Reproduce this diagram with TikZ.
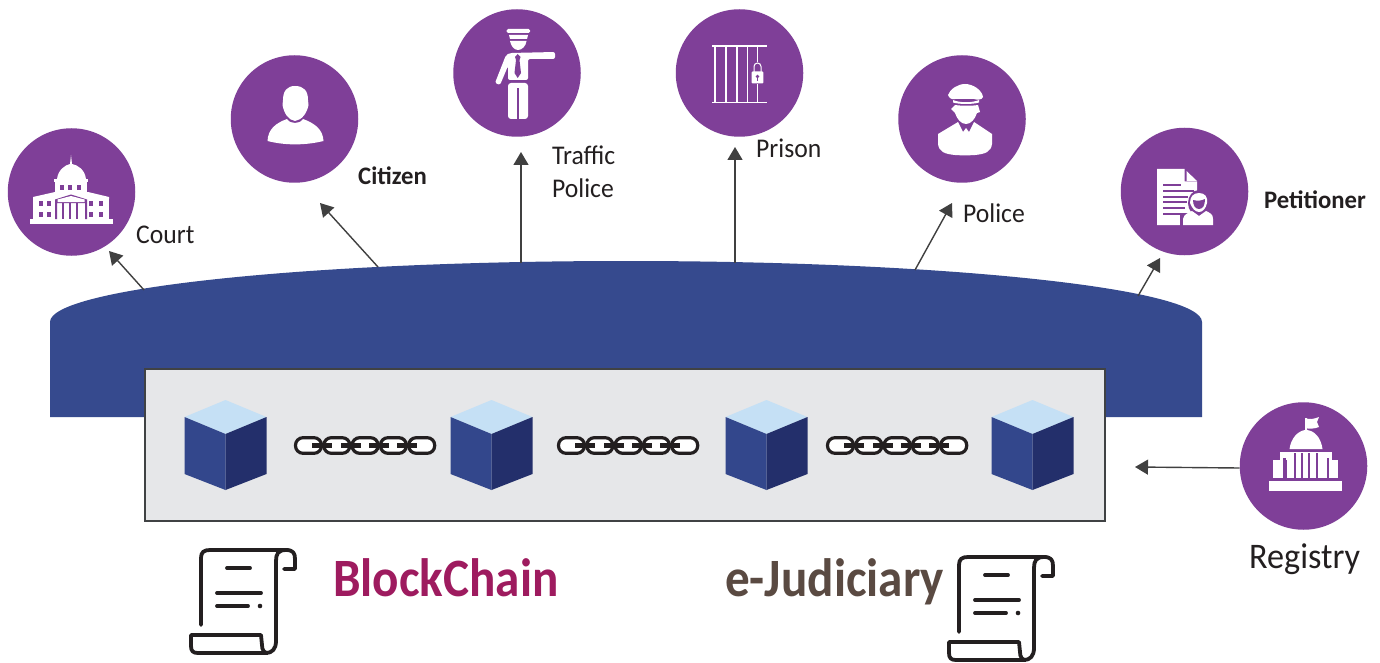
\documentclass[tikz,border=0pt]{standalone}
\usepackage{fontspec}
\setmainfont{Carlito}
\newfontfamily\lblfont[FakeStretch=0.95]{Carlito}
\newfontfamily\heavyfont[FakeStretch=0.98]{Carlito}
\newfontfamily\regfont[FakeStretch=0.95]{Carlito}
\newfontfamily\bigfont[FakeStretch=0.91]{Carlito}
\usetikzlibrary{arrows.meta}
\definecolor{hub}{HTML}{7F3F98}
\definecolor{dome}{HTML}{364A8E}
\definecolor{panel}{HTML}{E6E7E9}
\definecolor{panelrule}{HTML}{404244}
\definecolor{cubetop}{HTML}{C5E0F5}
\definecolor{cubeleft}{HTML}{33478C}
\definecolor{cuberight}{HTML}{232F6B}
\definecolor{arrowc}{HTML}{404040}
\definecolor{inkc}{HTML}{231F20}
\definecolor{bcred}{HTML}{9E1B5F}
\definecolor{ejbrown}{HTML}{5A4A42}
\tikzset{
  x=1pt,y=-1pt,
  hubnode/.style={circle,fill=hub,draw=none,minimum size=127.5pt,inner sep=0pt},
  linkarrow/.style={draw=arrowc,line width=1.4pt,-{Triangle[length=13pt,width=15pt]},shorten >=0pt},
  lbl/.style={anchor=base west,inner sep=0pt,text=inkc,font=\lblfont\fontsize{27}{30}\selectfont},
  boldlbl/.style={anchor=base west,inner sep=0pt,text=inkc,font=\heavyfont\bfseries\fontsize{25.2}{30}\selectfont},
  ico/.style={fill=white,draw=none},
  gap/.style={fill=hub,draw=none},
  scrollline/.style={draw=inkc,line width=3.8pt,line cap=round,line join=round},
  pics/cube/.style={code={
    \fill[cubetop] (0,-45)--(41,-28)--(0,-11)--(-41,-28)--cycle;
    \fill[cubeleft] (-41,-28)--(0,-11)--(0,45)--(-41,29)--cycle;
    \fill[cuberight] (41,-28)--(0,-11)--(0,45)--(41,29)--cycle;
  }},
  pics/chain/.style={code={
    \foreach \k in {0,...,4}{
      \draw[fill=white,draw=inkc,line width=3.2pt,rounded corners=7.5pt]
        ({\k*28.3+1.5},-7.8) rectangle ({\k*28.3+27.5},7.8);
    }
    \foreach \k in {1,...,4}{
      \fill[inkc] ({\k*28.3-10},-2.1) rectangle ({\k*28.3+10},2.1);
    }
  }},
  pics/scroll/.style={code={
    \draw[scrollline] (11,76) -- (11,9) .. controls (11,3) and (14,1) .. (20,1)
      -- (96,1) .. controls (103,1) and (105,4) .. (105,10) -- (105,20) -- (94,20);
    \draw[scrollline] (96,1) .. controls (88,1) and (86,5) .. (86,12) -- (86,92)
      .. controls (86,100) and (82,104) .. (76,104) -- (8,104)
      .. controls (3,104) and (1,102) .. (1,97) -- (1,86) -- (71,86) -- (72,96)
      .. controls (72,101) and (74,104) .. (78,104);
    \draw[scrollline] (37,19) -- (60,19);
    \draw[scrollline] (27,44) -- (71,44);
    \draw[scrollline] (27,57) -- (58,57);
    \fill[inkc] (70,57) circle (2.3pt);
  }},
}
\begin{document}
\begin{tikzpicture}
\useasboundingbox (0,0) rectangle (1380,663);
\fill[white] (0,0) rectangle (1380,663);

% base dome
\fill[dome] (50,417) -- (50,322) arc[start angle=180,end angle=360,x radius=576,y radius=61] -- (1202,417) -- cycle;
\coordinate (dCourt) at (144,290);
\coordinate (dCitizen) at (378,267);
\coordinate (dTraffic) at (521,263);
\coordinate (dPrison) at (735,263);
\coordinate (dPolice) at (915,270);
\coordinate (dPetitioner) at (1138,296);

% ledger panel
\node[draw=panelrule,fill=panel,line width=2.8pt,minimum width=960pt,minimum height=152pt,inner sep=0pt] (ledger) at (625,445) {};

\pic (cubeA) at (225.5,445) {cube};
\pic (cubeB) at (491.5,445) {cube};
\pic (cubeC) at (766.5,445) {cube};
\pic (cubeD) at (1032.5,445) {cube};
\pic (chainA) at (294,445.5) {chain};
\pic (chainB) at (557,445.5) {chain};
\pic (chainC) at (826,445.5) {chain};

% hubs
\node[hubnode] (court) at (71.5,192) {};
\node[hubnode] (citizen) at (294.5,119) {};
\node[hubnode] (traffic) at (517,73) {};
\node[hubnode] (prison) at (739.5,73) {};
\node[hubnode] (police) at (962,119) {};
\node[hubnode] (petitioner) at (1184.5,191.5) {};
\node[hubnode] (registry) at (1303.5,466) {};

% arrow ends
\coordinate (tCourt) at (109,251);
\coordinate (tCitizen) at (320,203);
\coordinate (tTraffic) at (521,152);
\coordinate (tPrison) at (735,147);
\coordinate (tPolice) at (952,203);
\coordinate (tPetitioner) at (1160,258);
\coordinate (tLedger) at (1135,467);
\draw[linkarrow] (dCourt) -- (tCourt);
\draw[linkarrow] (dCitizen) -- (tCitizen);
\draw[linkarrow] (dTraffic) -- (tTraffic);
\draw[linkarrow] (dPrison) -- (tPrison);
\draw[linkarrow] (dPolice) -- (tPolice);
\draw[linkarrow] (dPetitioner) -- (tPetitioner);
\draw[linkarrow] (registry.west |- 0,468) -- (tLedger);

% court icon
\fill[ico] (30,219) rectangle (113,223.5);
\fill[ico] (33,198) rectangle (109,219);
\fill[ico] (33,197) -- (55,192) -- (88,192) -- (109,197) -- (109,199) -- (33,199) -- cycle;
\fill[ico] (55,181) rectangle (87,193);
\fill[ico] (54,179) rectangle (88,182);
\fill[ico] (57,179) .. controls (58,170) and (65,165) .. (70,164) -- (71,155) -- (72,164) .. controls (78,165) and (85,170) .. (86,179) -- cycle;
\foreach \xx in {62,70,79}{\fill[gap] (\xx-1.7,185) rectangle (\xx+1.7,190);}
\foreach \xx in {41,49,91,101}{
  \fill[gap] (\xx-1.7,201) rectangle (\xx+1.7,206);
  \fill[gap] (\xx-1.7,212) rectangle (\xx+1.7,217);
}
\fill[gap] (55,199.5) -- (71,194.5) -- (87,199.5) -- (87,219) -- (85,219) -- (85,203) -- (57,203) -- (57,219) -- (55,219) -- cycle;
\foreach \xx in {63,70,77}{\fill[gap] (\xx-1.3,203) rectangle (\xx+1.3,219);}
\fill[ico] (57.5,199.5) -- (71,196) -- (84.5,199.5) -- (84.5,202) -- (57.5,202) -- cycle;

% citizen icon
\fill[ico] (295,86) .. controls (304,86) and (308,91) .. (308,100) -- (308.5,105) .. controls (307,113) and (302,120) .. (295,121)
  .. controls (288,120) and (284,113) .. (282.5,105) -- (283,100) .. controls (283,91) and (287,86) .. (295,86) -- cycle;
\fill[ico] (287,119) .. controls (289,122) and (292,123) .. (295,123) .. controls (298,123) and (301,122) .. (303,119)
  .. controls (314,123) and (323,129) .. (323.5,141) .. controls (305,145.5) and (285,145.5) .. (267.5,141)
  .. controls (268,129) and (276,123) .. (287,119) -- cycle;

% traffic police icon
\fill[ico,rounded corners=1.5pt] (506.5,29) rectangle (530,33);
\fill[ico] (509,35) -- (528,35) -- (527,39) -- (510,39) -- cycle;
\fill[ico] (510,41) -- (526.5,41) .. controls (526,46) and (522,50) .. (518,50) .. controls (514,50) and (511,46) .. (510,41) -- cycle;
\fill[ico,rounded corners=2pt] (510,53) -- (555,52) -- (555,59) -- (528,59) -- (528,80) -- (508,80) -- (508,66) -- (500,85) -- (495,83) -- (506,55) -- cycle;
\fill[gap] (517.7,54) -- (520.5,57) -- (519.5,60) -- (521,73) -- (517.7,78) -- (514.5,73) -- (516,60) -- (515,57) -- cycle;
\fill[ico,rounded corners=3pt] (508,83) rectangle (528,119);
\fill[gap] (516.5,88) rectangle (519,120);

% prison icon
\fill[ico] (711.5,44.8) rectangle (767,46.6);
\fill[ico] (711.5,101.6) rectangle (767,103.4);
\foreach \xx in {715,725.7,736.7,747.3,757.3}{\fill[ico] (\xx-.8,45) rectangle (\xx+.8,103);}
\fill[gap] (752,62) rectangle (763,84);
\draw[white,line width=1pt] (754,72) -- (754,66.5) arc[start angle=180,end angle=360,radius=3.5] -- (761,72);
\fill[ico,rounded corners=1pt] (751.7,71.5) rectangle (763.3,83.5);
\fill[gap] (757.5,76.5) circle (1.8pt);
\fill[gap] (756.8,77) rectangle (758.2,81);

% police icon
\fill[ico] (948,95) .. controls (950,89) and (958,84) .. (965,84) .. controls (973,84) and (982,90) .. (983,97) .. controls (982,100) and (977,100) .. (974,99) -- (955,99) .. controls (952,100) and (949,98) .. (948,95) -- cycle;
\fill[ico] (953,100) .. controls (960,103) and (972,103) .. (979,100) -- (979,102.5) .. controls (972,104.5) and (960,104.5) .. (953,102.5) -- cycle;
\fill[ico] (955,105) .. controls (962,106) and (972,106) .. (978,105) -- (980,112) -- (977,113) .. controls (975,119) and (971,124) .. (966,124) .. controls (961,124) and (957,119) .. (955,113) -- (951,109) -- cycle;
\fill[ico] (958,122) -- (963,132) -- (966,128) -- (969,132) -- (974,122) -- (992,134) -- (992,144) .. controls (991,152) and (985,154) .. (975,155) .. controls (968,155.5) and (962,155.5) .. (955,155) .. controls (945,154) and (939,152) .. (938,144) -- (938,134) -- cycle;

% petitioner icon
\fill[ico] (1157,169) -- (1184.5,169) -- (1184.5,181.5) -- (1197,181.5) -- (1197,225) -- (1157,225) -- cycle;
\fill[ico] (1186.5,171) -- (1197,181) -- (1186.5,181) -- cycle;
\foreach \yy/\xe in {185/1181,191/1194,197/1188,202/1187,208/1185,214/1181}{\fill[gap] (1162.5,\yy-.8) rectangle (\xe,\yy+.8);}
\fill[gap] (1180,213) rectangle (1216,226);
\fill[gap] (1199,203) ellipse (11pt and 13pt);
\fill[ico] (1183,225) -- (1183,219) .. controls (1184,214) and (1188,213) .. (1192,211) -- (1199,216) -- (1206,211) .. controls (1210,213) and (1213,214) .. (1213,219) -- (1213,225) -- cycle;
\fill[ico] (1199,193) .. controls (1205,193) and (1208,197) .. (1207,203) .. controls (1206,208) and (1203,212) .. (1199,212) .. controls (1195,212) and (1192,208) .. (1190,203) .. controls (1190,197) and (1193,193) .. (1199,193) -- cycle;
\fill[gap] (1193,200) .. controls (1197,201) and (1201,201) .. (1205,199) .. controls (1205,205) and (1203,209) .. (1199,209) .. controls (1195,209) and (1193,205) .. (1193,200) -- cycle;

% registry icon
\fill[ico] (1269,481) rectangle (1342,491);
\fill[ico] (1273,460) rectangle (1283,478);
\fill[ico] (1329,460) rectangle (1338,478);
\fill[ico] (1280,452) -- (1332,452) -- (1332,460) -- (1280,460) -- cycle;
\fill[ico] (1287,458) rectangle (1327,478);
\foreach \xx in {1295,1302,1309,1317}{\fill[gap] (\xx-1.2,453) rectangle (\xx+1.2,479);}
\fill[gap] (1283,458) rectangle (1286,479);
\fill[gap] (1327,458) rectangle (1329,479);
\fill[ico] (1289.5,449) .. controls (1291,438) and (1298,431) .. (1305,430) -- (1305,418) -- (1307,418) -- (1307,430) .. controls (1315,431) and (1321,438) .. (1322.5,449) -- cycle;
\fill[ico] (1305,418) .. controls (1309,420) and (1314,419) .. (1319,417) -- (1317,422) -- (1319,427) .. controls (1314,429) and (1309,429) .. (1305,428) -- cycle;

% labels
\node[lbl] (lCourt) at (136,243) {Court};
\node[boldlbl] (lCitizen) at (358,185) {Citizen};
\node[lbl] (lTraffic) at (552,165) {Traffic};
\node[lbl] (lTraffic2) at (552,197) {Police};
\node[lbl] (lPrison) at (756,158) {Prison};
\node[lbl] (lPolice) at (963,222) {Police};
\node[boldlbl] (lPetitioner) at (1264,208) {Petitioner};
\node[anchor=base west,inner sep=0pt,text=inkc,font=\regfont\fontsize{36}{38}\selectfont] (lRegistry) at (1249,568) {Registry};
\node[anchor=base west,inner sep=0pt,text=bcred,font=\bigfont\bfseries\fontsize{54}{58}\selectfont] (lBlock) at (333,596) {BlockChain};
\node[anchor=base west,inner sep=0pt,text=ejbrown,font=\bigfont\bfseries\fontsize{54}{58}\selectfont] (lJud) at (725,596) {e-Judiciary};

\pic (scrollA) at (190,549) {scroll};
\pic (scrollB) at (948,556) {scroll};
\end{tikzpicture}
\end{document}
